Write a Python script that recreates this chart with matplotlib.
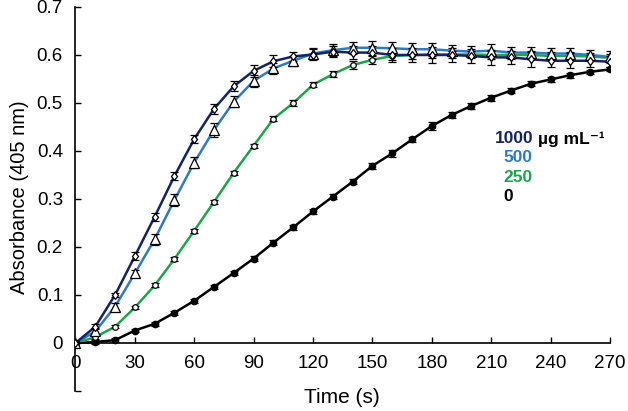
import matplotlib
matplotlib.use("Agg")
import matplotlib.pyplot as plt
import numpy as np

plt.rcParams["font.family"] = ["Liberation Sans", "DejaVu Sans"]

# ── Data ──────────────────────────────────────────────────────────────────────
time_s = np.arange(0, 280, 10)

abs_1000 = [0.000, 0.034, 0.100, 0.181, 0.263, 0.348, 0.425, 0.488, 0.535, 0.567,
            0.587, 0.597, 0.601, 0.607, 0.605, 0.605, 0.600, 0.600, 0.600, 0.600,
            0.598, 0.595, 0.595, 0.591, 0.588, 0.588, 0.588, 0.586]
err_1000 = [0.004, 0.005, 0.005, 0.008, 0.008, 0.008, 0.008, 0.010, 0.010, 0.012,
            0.012, 0.010, 0.012, 0.012, 0.014, 0.014, 0.014, 0.014, 0.016, 0.014,
            0.014, 0.016, 0.014, 0.016, 0.014, 0.016, 0.012, 0.012]

abs_500 = [0.000, 0.024, 0.076, 0.145, 0.216, 0.298, 0.376, 0.444, 0.503, 0.546,
           0.572, 0.588, 0.603, 0.610, 0.615, 0.615, 0.614, 0.612, 0.612, 0.609,
           0.607, 0.609, 0.605, 0.605, 0.603, 0.603, 0.600, 0.596]
err_500 = [0.004, 0.008, 0.008, 0.008, 0.012, 0.012, 0.012, 0.015, 0.012, 0.012,
           0.012, 0.010, 0.012, 0.012, 0.012, 0.014, 0.014, 0.012, 0.014, 0.012,
           0.012, 0.014, 0.012, 0.012, 0.012, 0.012, 0.010, 0.012]

abs_250 = [0.000, 0.012, 0.034, 0.074, 0.120, 0.175, 0.234, 0.294, 0.355, 0.411,
           0.467, 0.500, 0.538, 0.560, 0.579, 0.590, 0.598, 0.600, 0.601, 0.601,
           0.601, 0.600, 0.600, 0.600, 0.598, 0.598, 0.597, 0.594]
err_250 = [0.003, 0.003, 0.003, 0.004, 0.004, 0.004, 0.004, 0.004, 0.004, 0.004,
           0.005, 0.006, 0.005, 0.006, 0.008, 0.008, 0.008, 0.008, 0.008, 0.008,
           0.008, 0.008, 0.008, 0.008, 0.008, 0.008, 0.008, 0.008]

abs_0 = [0.000, 0.002, 0.006, 0.026, 0.040, 0.063, 0.088, 0.117, 0.146, 0.176,
         0.209, 0.241, 0.274, 0.305, 0.336, 0.369, 0.395, 0.424, 0.452, 0.475,
         0.494, 0.511, 0.526, 0.540, 0.549, 0.558, 0.565, 0.570]
err_0 = [0.003, 0.004, 0.004, 0.004, 0.004, 0.004, 0.004, 0.004, 0.005, 0.005,
         0.005, 0.005, 0.005, 0.006, 0.005, 0.006, 0.008, 0.006, 0.008, 0.007,
         0.006, 0.006, 0.005, 0.005, 0.005, 0.005, 0.004, 0.004]

x_ticks = [0, 30, 60, 90, 120, 150, 180, 210, 240, 270]
y_ticks = [-0.1, 0, 0.1, 0.2, 0.3, 0.4, 0.5, 0.6, 0.7]
y_ticklabels = ["", "0", "0.1", "0.2", "0.3", "0.4", "0.5", "0.6", "0.7"]

NAVY = "#14236b"
BLUE = "#2a7cc4"
GREEN = "#1aa64b"
BLACK = "#000000"

fig = plt.figure(figsize=(6.28, 4.11), dpi=100)
ax = fig.add_axes([0.1202, 0.0487, 0.8511, 0.9343])

series = [
    (abs_0, err_0, BLACK, dict(marker="o", ms=4.5, mfc=BLACK, mec=BLACK)),
    (abs_250, err_250, GREEN, dict(marker="o", ms=4, mfc="white", mec=BLACK, mew=0.9)),
    (abs_500, err_500, BLUE, dict(marker="^", ms=6.5, mfc="white", mec=BLACK, mew=0.9)),
    (abs_1000, err_1000, NAVY, dict(marker="d", ms=4.5, mfc="white", mec=BLACK, mew=0.9)),
]

for vals, errs, col, mk in series:
    ax.plot(time_s, vals, color=col, lw=1.8, zorder=2)
    ax.errorbar(time_s, vals, yerr=errs, fmt="none", ecolor=BLACK,
                elinewidth=0.9, capsize=3, capthick=0.9, zorder=3)
    ax.plot(time_s, vals, ls="none", zorder=4, **mk)

ax.set_xlim(0, 270)
ax.set_ylim(-0.1, 0.7)
ax.spines["top"].set_visible(False)
ax.spines["right"].set_visible(False)
ax.spines["bottom"].set_position(("data", 0))
ax.spines["left"].set_linewidth(1.2)
ax.spines["bottom"].set_linewidth(1.2)

ax.set_xticks(x_ticks)
ax.set_yticks(y_ticks)
ax.set_yticklabels(y_ticklabels)
ax.tick_params(axis="both", direction="in", length=4, width=1, labelsize=13.5)
ax.tick_params(axis="x", pad=9)
ax.tick_params(axis="y", pad=9)

fig.text(0.031, 0.52, "Absorbance (405 nm)", rotation=90, ha="center",
         va="center", fontsize=14.5)
fig.text(0.545, 0.032, "Time (s)", ha="center", va="center", fontsize=15)

# legend as coloured text
fig.text(0.788, 0.662, "1000", color=NAVY, fontsize=12.5, fontweight="bold",
         ha="left", va="center")
fig.text(0.857, 0.662, "µg mL\u207b\u00b9", color=BLACK, fontsize=12.5,
         fontweight="bold", ha="left", va="center")
fig.text(0.801, 0.618, "500", color=BLUE, fontsize=12.5, fontweight="bold",
         ha="left", va="center")
fig.text(0.801, 0.569, "250", color=GREEN, fontsize=12.5, fontweight="bold",
         ha="left", va="center")
fig.text(0.801, 0.521, "0", color=BLACK, fontsize=12.5, fontweight="bold",
         ha="left", va="center")

fig.savefig("out.png", dpi=100, facecolor="white")
plt.close(fig)
